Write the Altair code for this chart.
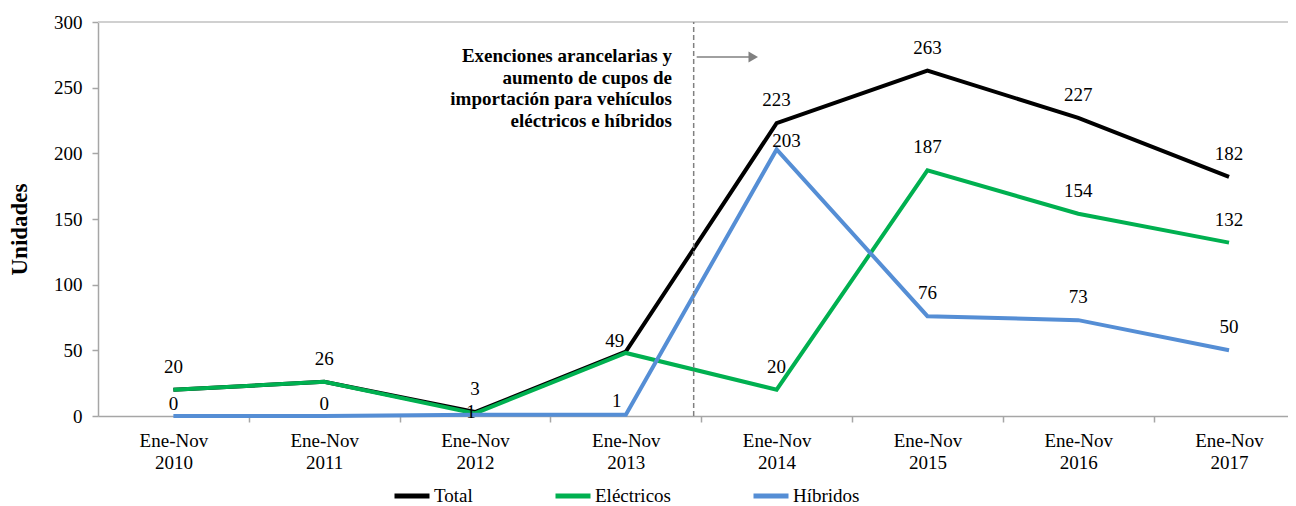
import json
import altair as alt
import pandas as pd

# ---------------- data ----------------
years = ["Ene-Nov 2010", "Ene-Nov 2011", "Ene-Nov 2012", "Ene-Nov 2013",
         "Ene-Nov 2014", "Ene-Nov 2015", "Ene-Nov 2016", "Ene-Nov 2017"]
total = [20, 26, 3, 49, 223, 263, 227, 182]
electricos = [20, 26, 2, 48, 20, 187, 154, 132]
hibridos = [0, 0, 1, 1, 203, 76, 73, 50]
series = ["Total", "Eléctricos", "Híbridos"]
y_ticks = [0, 50, 100, 150, 200, 250, 300]
annot_text = ("Exenciones arancelarias y\naumento de cupos de\n"
              "importación para vehículos\neléctricos e híbridos")

# ---------------- styling ----------------
colors = ["#000000", "#00B050", "#558ED5"]
FONT = "Liberation Serif"
GRAY = "#A6A6A6"
FS = 19

rows = []
for s, vals in zip(series, [total, electricos, hibridos]):
    for i, v in enumerate(vals):
        rows.append({"i": i, "serie": s, "v": v})
df = pd.DataFrame(rows)

# which value labels are shown and their pixel nudges
shown = {"Total": range(8), "Eléctricos": range(4, 8), "Híbridos": range(8)}
nudges = {("Total", 3): (-11, -11), ("Híbridos", 0): (0, -12), ("Híbridos", 1): (0, -12),
          ("Híbridos", 2): (-4, -3), ("Híbridos", 3): (-9, -14), ("Híbridos", 4): (10, -8)}
DEFAULT_NUDGE = (0, -23)
lab = df[df.apply(lambda r: r["i"] in shown[r["serie"]], axis=1)].copy()
lab["grp"] = [str(nudges.get((s, i), DEFAULT_NUDGE)) for s, i in zip(lab["serie"], lab["i"])]
lab["txt"] = lab["v"].astype(str)

xscale = alt.Scale(domain=[-0.5, 7.391], nice=False, zero=False)
yscale = alt.Scale(domain=[0, 300], nice=False)
cscale = alt.Scale(domain=series, range=colors)

xaxis = alt.Axis(
    values=[k / 2 for k in range(15)],
    title=None, grid=False,
    domainColor=GRAY, domainWidth=1.5, tickColor=GRAY, tickSize=6, tickWidth=1.5,
    tickOpacity={"condition": {"test": "datum.value % 1 == 0", "value": 0}, "value": 1},
    labelExpr="datum.value % 1 == 0 ? split(" + json.dumps(years) + "[datum.value], ' ') : ''",
    labelFont=FONT, labelFontSize=FS, labelColor="black", labelPadding=9,
    labelLineHeight=22, labelOverlap=False, labelFlush=False, labelBound=False,
)
yaxis = alt.Axis(
    values=y_ticks, grid=False,
    domainColor=GRAY, domainWidth=1.5, tickColor=GRAY, tickSize=6, tickWidth=1.5,
    labelFont=FONT, labelFontSize=FS, labelColor="black", labelPadding=10,
    title="Unidades", titleFont=FONT, titleFontSize=23, titleFontWeight="bold",
    titleColor="black", titleAngle=270, titleX=-79, titleY=207,
    titleAlign="center", titleBaseline="middle",
)
legend = alt.Legend(
    orient="none", legendX=294, legendY=454, direction="horizontal", title=None,
    symbolType="stroke", symbolStrokeWidth=5, symbolSize=1225,
    labelFont=FONT, labelFontSize=FS, labelColor="black", labelOffset=2,
    columnPadding=72,
)

top_line = alt.Chart().mark_rule(color="#D0D0D0", strokeWidth=2).encode(
    y=alt.Y(datum=300, scale=yscale)
)

lines = []
for idx, s in enumerate(series):
    if idx == 0:
        xe = alt.X("i:Q", scale=xscale, axis=xaxis)
        ye = alt.Y("v:Q", scale=yscale, axis=yaxis)
    else:
        xe = alt.X("i:Q", scale=xscale)
        ye = alt.Y("v:Q", scale=yscale)
    lines.append(
        alt.Chart(df).transform_filter(alt.datum.serie == s).mark_line(strokeWidth=4).encode(
            x=xe, y=ye,
            color=alt.Color("serie:N", scale=cscale, legend=legend),
        )
    )

label_layers = []
for g in sorted(set(lab["grp"])):
    dx, dy = eval(g)
    label_layers.append(
        alt.Chart(lab).transform_filter(alt.datum.grp == g).mark_text(
            font=FONT, fontSize=FS, color="black", baseline="middle", dx=dx, dy=dy
        ).encode(
            x=alt.X("i:Q", scale=xscale),
            y=alt.Y("v:Q", scale=yscale),
            text="txt:N",
        )
    )

dash = alt.Chart().mark_rule(color="#808080", strokeWidth=1.5, strokeDash=[5, 3]).encode(
    x=alt.X(datum=3.45, scale=xscale),
    y=alt.Y(datum=0, scale=yscale),
    y2=alt.Y2(datum=300),
)
arrow = alt.Chart().mark_rule(color="#808080", strokeWidth=1.5).encode(
    x=alt.X(datum=3.47, scale=xscale),
    x2=alt.X2(datum=3.82),
    y=alt.Y(datum=273.4, scale=yscale),
)
head = alt.Chart().mark_point(shape="triangle-right", filled=True, color="#808080",
                              size=120, opacity=1).encode(
    x=alt.X(datum=3.845, scale=xscale),
    y=alt.Y(datum=273.4, scale=yscale),
)
annot = alt.Chart().mark_text(
    align="right", baseline="top", lineBreak="\n", lineHeight=21.7,
    font=FONT, fontSize=19, fontWeight="bold", color="black",
).encode(
    x=alt.X(datum=3.306, scale=xscale),
    y=alt.Y(datum=281, scale=yscale),
    text=alt.value(annot_text),
)

chart = alt.layer(top_line, *lines, *label_layers, dash, arrow, head, annot).properties(
    width=1190, height=394,
    padding={"left": 90, "top": 14, "right": 0, "bottom": 90},
    autosize=alt.AutoSizeParams(type="none"),
).configure(font=FONT).configure_view(stroke=None).configure_legend(
    labelFont=FONT
).configure_text(font=FONT)

chart.save("out.html", embed_options={"renderer": "svg", "actions": False})
